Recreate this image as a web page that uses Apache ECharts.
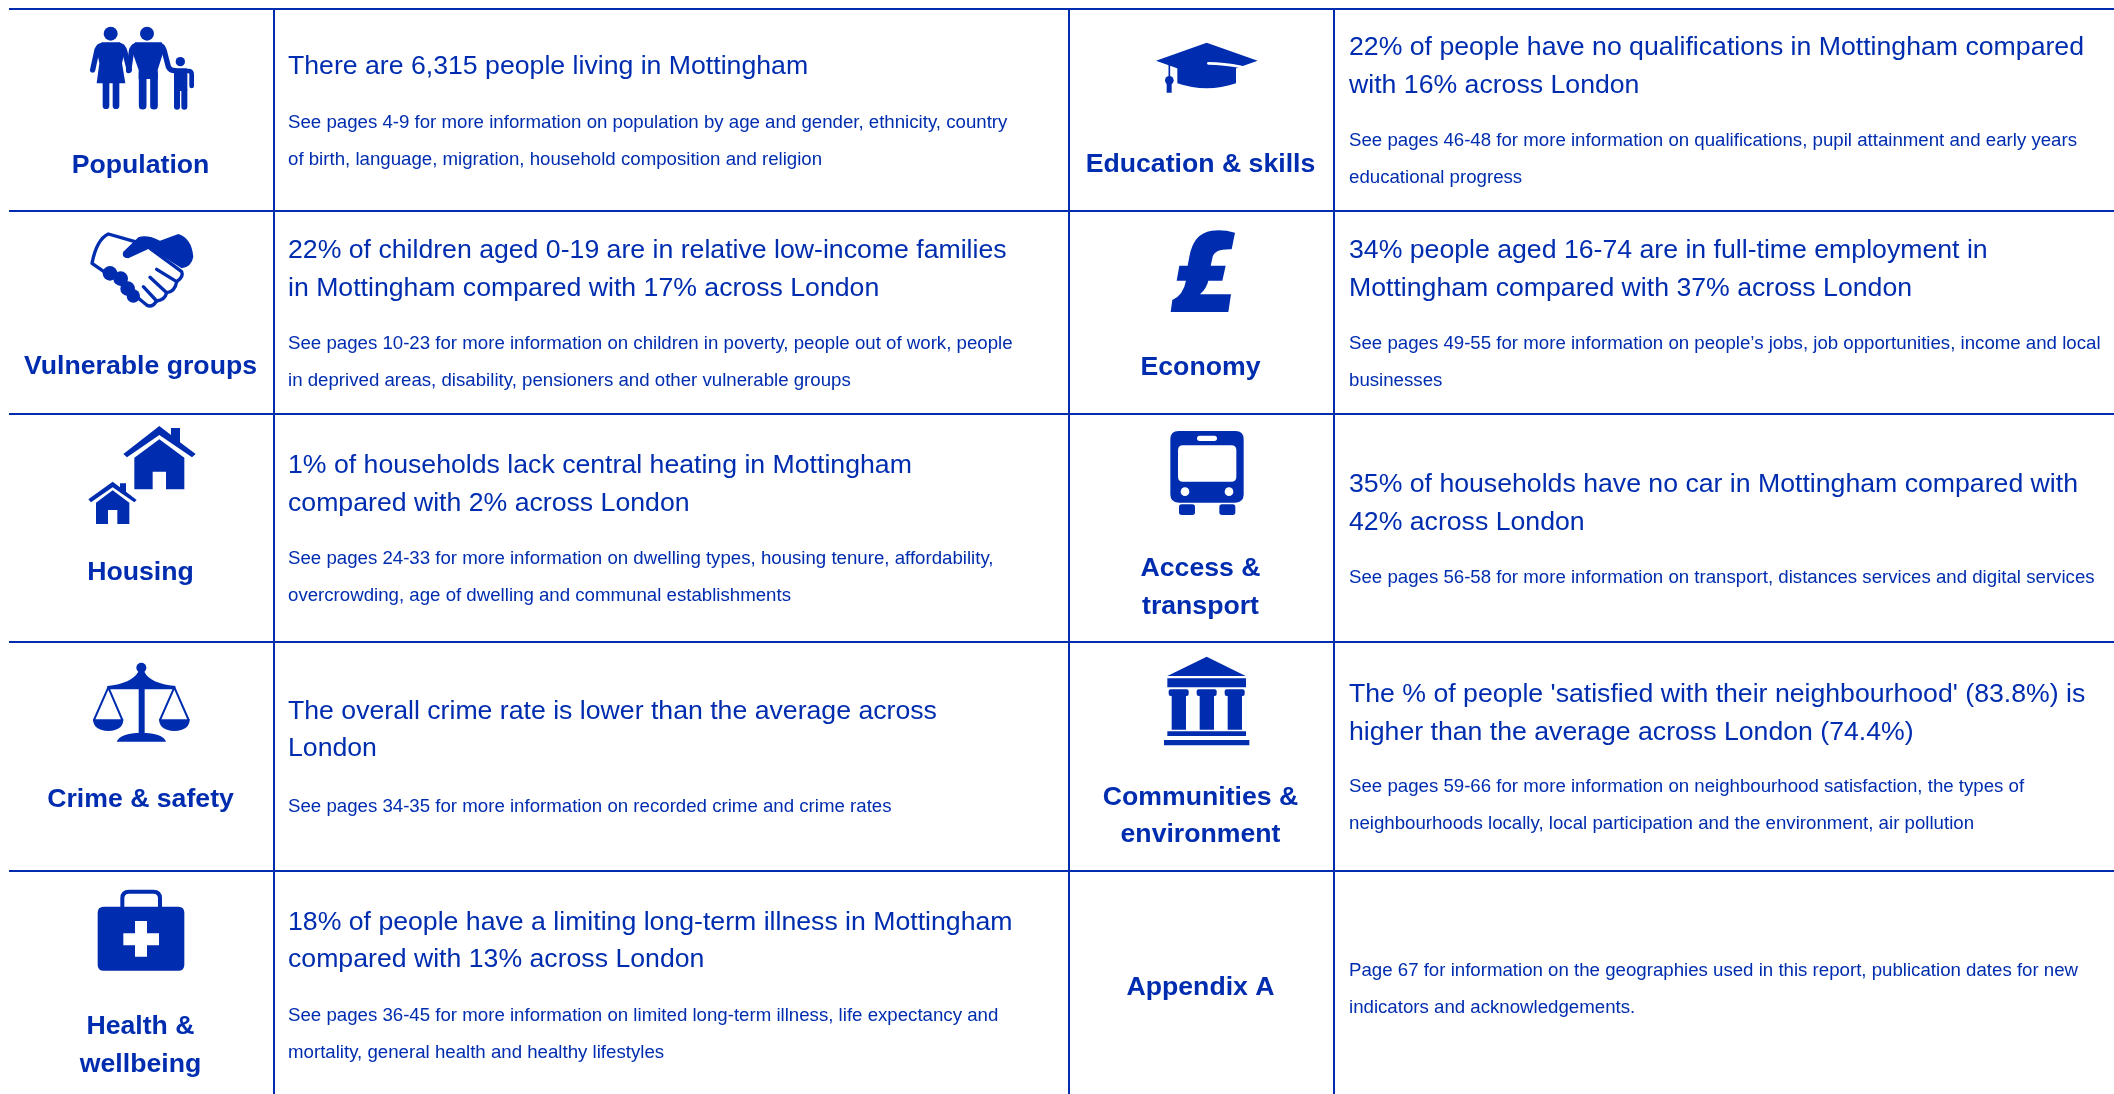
<!DOCTYPE html>
<html>
<head>
<meta charset="utf-8">
<script src="https://cdn.jsdelivr.net/npm/echarts@6/dist/echarts.min.js"></script>
<style>html,body{margin:0;padding:0;background:#fff}#main{width:2114px;height:1094px}</style>
</head>
<body>
<div id="main"></div>
<script type="text/javascript">
var categories = [['Population'], ['Vulnerable groups'], ['Housing'], ['Crime & safety'], ['Health &', 'wellbeing'],
    ['Education & skills'], ['Economy'], ['Access &', 'transport'], ['Communities &', 'environment'], ['Appendix A']];

var headlines = [
    ['There are 6,315 people living in Mottingham'],
    ['22% of children aged 0-19 are in relative low-income families', 'in Mottingham compared with 17% across London'],
    ['1% of households lack central heating in Mottingham', 'compared with 2% across London'],
    ['The overall crime rate is lower than the average across', 'London'],
    ['18% of people have a limiting long-term illness in Mottingham', 'compared with 13% across London'],
    ['22% of people have no qualifications in Mottingham compared', 'with 16% across London'],
    ['34% people aged 16-74 are in full-time employment in', 'Mottingham compared with 37% across London'],
    ['35% of households have no car in Mottingham compared with', '42% across London'],
    ["The % of people 'satisfied with their neighbourhood' (83.8%) is", 'higher than the average across London (74.4%)'],
    []
];

var details = [
    ['See pages 4-9 for more information on population by age and gender, ethnicity, country', 'of birth, language, migration, household composition and religion'],
    ['See pages 10-23 for more information on children in poverty, people out of work, people', 'in deprived areas, disability, pensioners and other vulnerable groups'],
    ['See pages 24-33 for more information on dwelling types, housing tenure, affordability,', 'overcrowding, age of dwelling and communal establishments'],
    ['See pages 34-35 for more information on recorded crime and crime rates'],
    ['See pages 36-45 for more information on limited long-term illness, life expectancy and', 'mortality, general health and healthy lifestyles'],
    ['See pages 46-48 for more information on qualifications, pupil attainment and early years', 'educational progress'],
    ['See pages 49-55 for more information on people\u2019s jobs, job opportunities, income and local', 'businesses'],
    ['See pages 56-58 for more information on transport, distances services and digital services'],
    ['See pages 59-66 for more information on neighbourhood satisfaction, the types of', 'neighbourhoods locally, local participation and the environment, air pollution'],
    ['Page 67 for information on the geographies used in this report, publication dates for new', 'indicators and acknowledgements.']
];

// table rules and text rows, in page pixels
var ruleRows = [9, 211, 414, 642, 871];
var ruleCols = [274, 1069, 1334];
var labelX = [140.5, 1200.5];
var textX = [288, 1349];
var labelY = [165.5, 367, 572.5, 799.5, 1027, 164.5, 368, 569, 797.5, 987.5];
var headlineY = [67, 251, 466, 711.5, 922.5, 48, 251, 485, 695, 0];
var detailY = [122.5, 343.5, 558.5, 806.5, 1015.5, 140.5, 343.5, 577.5, 787, 970.5];
var labelGap = 37.5, headlineGap = 37.5, detailGap = 37;

var BLUE = '#002daf', WHITE = '#ffffff';

function circ(x, y, r) {
    return 'M' + (x - r) + ' ' + y + 'a' + r + ' ' + r + ' 0 1 0 ' + (2 * r) + ' 0a' + r + ' ' + r + ' 0 1 0 ' + (-2 * r) + ' 0z';
}
function rr(x, y, w, h, r) {
    return 'M' + (x + r) + ' ' + y + 'H' + (x + w - r) + 'Q' + (x + w) + ' ' + y + ' ' + (x + w) + ' ' + (y + r) +
        'V' + (y + h - r) + 'Q' + (x + w) + ' ' + (y + h) + ' ' + (x + w - r) + ' ' + (y + h) +
        'H' + (x + r) + 'Q' + x + ' ' + (y + h) + ' ' + x + ' ' + (y + h - r) +
        'V' + (y + r) + 'Q' + x + ' ' + y + ' ' + (x + r) + ' ' + y + 'Z';
}

// icons: drawn at 3x, origin is the top-left of the source box. part = [path, fill, strokeWidth]
var icons = [
    {x: 0, y: 0, parts: [
        [circ(332, 101, 21)], [circ(441, 101, 21)], [circ(541, 185, 14)],
        ['M305 127H360L375 150L366 190L376 250H290L298 190L290 150Z'],
        ['M308 136Q296 136 291 150L278 210', null, 16], ['M356 136Q368 136 373 150L388 210', null, 16],
        ['M318 250V317', null, 20], ['M348 250V317', null, 20],
        ['M412 136Q400 136 395 150L386 212', null, 16],
        ['M405 127H485L492 150L473 210V237H416V210L395 150Z'],
        ['M428 220V317', null, 23], ['M462 220V317', null, 23],
        ['M478 136Q488 136 492 150L505 200Q510 212 525 212', null, 16],
        [rr(522, 205, 40, 68, 4)], ['M531 270V320', null, 18], ['M553 270V320', null, 18],
        ['M560 213H565Q575 213 575 223V258', null, 14]
    ]},
    {x: 0, y: 0, parts: [
        ['M405 725L325 702Q290 718 276 790L312 815', 'none', 10],
        [circ(330, 820, 22)], [circ(362, 836, 22)], [circ(383, 866, 22)], [circ(400, 888, 20)],
        ['M370 755L415 712Q440 702 480 722L535 702Q575 715 580 770Q575 800 545 805L450 745L385 775Q362 772 370 755Z'],
        ['M450 745L545 815Q552 830 530 845L470 808', 'none', 10],
        ['M530 845Q525 875 500 878L450 832', 'none', 10],
        ['M500 878Q495 900 470 903L430 860', 'none', 10],
        ['M470 903Q455 925 440 915L410 890', 'none', 10]
    ]},
    {x: 0, y: 410, parts: [
        ['M370 132L478 48L513 75V54H540V97L587 132L576 142L478 75L381 142Z'],
        ['M403 143L478 88L553 143V238H498V185H458V238H403Z'],
        ['M265 268L338 215L360 232V220H378V245L410 270L403 277L338 232L273 277Z'],
        ['M288 278L338 241L388 278V342H352V300H324V342H288Z']
    ]},
    {x: 0, y: 410, parts: [
        [circ(424, 773, 15)],
        ['M322 828Q395 820 415 785H433Q450 820 526 828V838H322Z'],
        [rr(416, 830, 18, 145, 0)],
        ['M350 995Q360 970 424 968Q490 970 498 995Z'],
        ['M279 928H370Q370 962 325 963Q280 962 279 928Z'],
        ['M477 928H569Q569 962 523 963Q478 962 477 928Z'],
        ['M325 832L282 930M325 832L367 930', 'none', 6],
        ['M523 832L480 930M523 832L566 930', 'none', 6]
    ]},
    {x: 0, y: 860, parts: [
        [rr(293, 140, 260, 192, 18)],
        ['M367 142V115Q367 95 387 95H460Q480 95 480 115V142', 'none', 12],
        ['M405 183H441V220H477V256H441V290H405V256H370V220H405Z', WHITE]
    ]},
    {x: 1060, y: 0, parts: [
        ['M288 182L440 128L593 182L440 236Z'],
        ['M352 195V250Q440 280 528 250V195Z'],
        ['M445 190Q490 190 545 201', WHITE, 8],
        ['M328 195V250', 'none', 5], [circ(328, 241, 13)], [rr(320, 250, 15, 28, 0)]
    ]},
    {x: 1060, y: 0, parts: [
        ['M525 698Q490 688 455 692Q400 700 388 770L383 797L358 797L350 842L378 842Q370 885 337 900L332 936H505L513 883H420Q440 865 445 842H487L497 797H452L458 770Q465 746 515 748Z']
    ]},
    {x: 1060, y: 410, parts: [
        [rr(331, 63, 220, 215, 25)],
        [rr(354, 106, 175, 109, 15), WHITE],
        [rr(411, 77, 60, 16, 8), WHITE],
        [circ(375, 245, 13), WHITE], [circ(507, 245, 13), WHITE],
        [rr(357, 283, 48, 32, 8)], [rr(478, 283, 48, 32, 8)]
    ]},
    {x: 1060, y: 410, parts: [
        ['M322 798L440 740L557 798Z'],
        [rr(322, 805, 236, 27, 0)],
        [rr(326, 838, 60, 20, 6)], [rr(335, 855, 43, 104, 0)],
        [rr(410, 838, 60, 20, 6)], [rr(419, 855, 43, 104, 0)],
        [rr(494, 838, 60, 20, 6)], [rr(503, 855, 43, 104, 0)],
        [rr(322, 964, 236, 14, 0)],
        [rr(312, 990, 256, 16, 0)]
    ]}
];

function textEl(api, str, x, y, size, bold, align) {
    var p = api.coord([x, y]);
    return {
        type: 'text',
        style: {
            text: str, x: p[0], y: p[1], fill: BLUE,
            font: (bold ? 'bold ' : '') + size + 'px "Liberation Sans", Arial, sans-serif',
            align: align, verticalAlign: 'middle'
        }
    };
}

function renderRule(params, api) {
    var a = api.coord([api.value(0), api.value(1)]);
    var b = api.coord([api.value(2), api.value(3)]);
    return {type: 'line', shape: {x1: a[0], y1: a[1], x2: b[0], y2: b[1]}, style: {stroke: BLUE, lineWidth: 2}};
}

function renderCell(params, api) {
    var i = params.dataIndex;
    var col = i < 5 ? 0 : 1;
    var kids = [];
    categories[i].forEach(function (s, k) {
        kids.push(textEl(api, s, labelX[col], labelY[i] + k * labelGap, 26.67, true, 'center'));
    });
    headlines[i].forEach(function (s, k) {
        kids.push(textEl(api, s, textX[col], headlineY[i] + k * headlineGap, 26.67, false, 'left'));
    });
    details[i].forEach(function (s, k) {
        kids.push(textEl(api, s, textX[col], detailY[i] + k * detailGap, 18.67, false, 'left'));
    });
    return {type: 'group', children: kids};
}

function renderIcon(params, api) {
    var ic = icons[params.dataIndex];
    var p = api.coord([ic.x, ic.y]);
    return {
        type: 'group', x: p[0], y: p[1], scaleX: 1 / 3, scaleY: 1 / 3,
        children: ic.parts.map(function (part) {
            var hasStroke = part[2] != null;
            var color = part[1] === WHITE ? WHITE : BLUE;
            return {
                type: 'path',
                shape: {pathData: part[0]},
                style: {
                    fill: hasStroke ? 'none' : color,
                    stroke: hasStroke ? color : null,
                    lineWidth: part[2] || 0,
                    lineCap: 'round', lineJoin: 'round'
                }
            };
        })
    };
}

var rules = ruleRows.map(function (y) { return [9, y, 2114, y]; })
    .concat(ruleCols.map(function (x) { return [x, 9, x, 1094]; }));

var myChart = echarts.init(document.getElementById('main'));
myChart.setOption({
    animation: false,
    backgroundColor: '#fff',
    grid: {left: 0, right: 0, top: 0, bottom: 0},
    xAxis: {type: 'value', min: 0, max: 2114, show: false},
    yAxis: {type: 'value', min: 0, max: 1094, inverse: true, show: false},
    series: [
        {type: 'custom', renderItem: renderRule, data: rules, silent: true},
        {type: 'custom', renderItem: renderCell, data: categories.map(function (c, i) { return [i]; }), silent: true},
        {type: 'custom', renderItem: renderIcon, data: icons.map(function (c, i) { return [i]; }), silent: true}
    ]
});
</script>
</body>
</html>
